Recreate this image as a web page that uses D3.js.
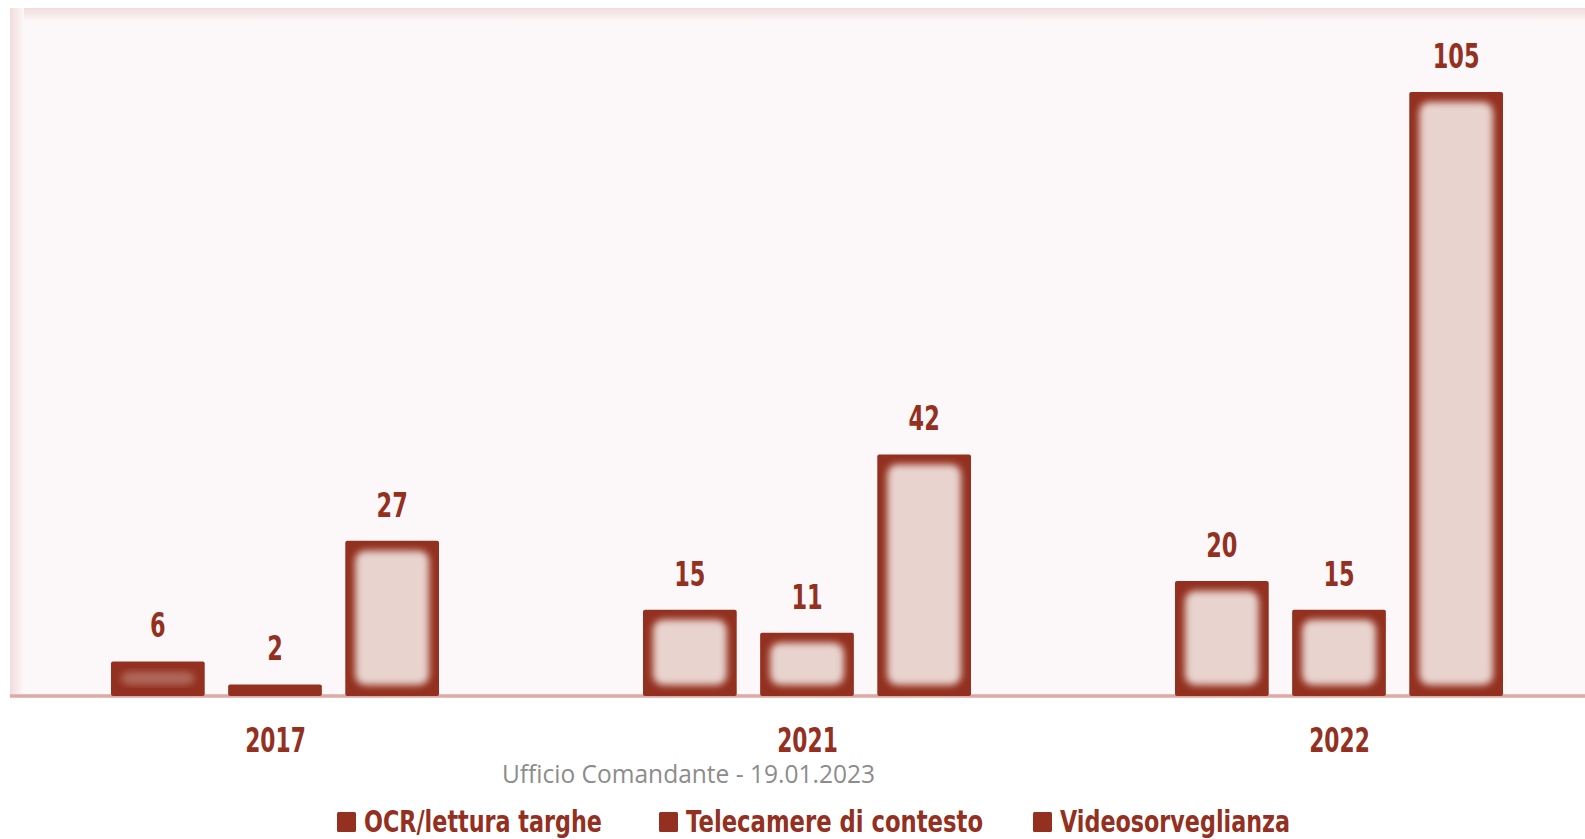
<!DOCTYPE html>
<html>
<head>
<meta charset="utf-8">
<script src="https://d3js.org/d3.v7.min.js"></script>
<style>
  body { margin: 0; background: #ffffff; }
  svg { display: block; }
</style>
</head>
<body>
<div id="chart"></div>
<script>
// data
var years = ["2017", "2021", "2022"];
var series = ["OCR/lettura targhe", "Telecamere di contesto", "Videosorveglianza"];
var ocr = [6, 15, 20];
var telecamere = [2, 11, 15];
var video = [27, 42, 105];

var W = 1585, H = 839;
var dark = "#93301f", light = "#e8d3ce";
var labelFont = "'DejaVu Sans', sans-serif";

var rows = [];
years.forEach(function(y, i) {
    rows.push({ year: y, s: series[0], v: ocr[i] });
    rows.push({ year: y, s: series[1], v: telecamere[i] });
    rows.push({ year: y, s: series[2], v: video[i] });
});

var svg = d3.select("#chart").append("svg")
    .attr("width", W)
    .attr("height", H);

var defs = svg.append("defs");
defs.append("filter").attr("id", "soft")
    .attr("x", "-20%").attr("y", "-20%").attr("width", "140%").attr("height", "140%")
    .append("feGaussianBlur").attr("stdDeviation", 3.8);
var gTop = defs.append("linearGradient").attr("id", "topEdge")
    .attr("x1", 0).attr("y1", 0).attr("x2", 0).attr("y2", 1);
gTop.append("stop").attr("offset", "0%").attr("stop-color", "#f1dcdc");
gTop.append("stop").attr("offset", "100%").attr("stop-color", "#fcf8f9");
var gLeft = defs.append("linearGradient").attr("id", "leftEdge")
    .attr("x1", 0).attr("y1", 0).attr("x2", 1).attr("y2", 0);
gLeft.append("stop").attr("offset", "0%").attr("stop-color", "#f1dcdc");
gLeft.append("stop").attr("offset", "100%").attr("stop-color", "#fcf8f9");

var baseY = 696;

// plot background
svg.append("rect").attr("x", 10).attr("y", 8).attr("width", W - 10).attr("height", baseY - 8)
    .attr("fill", "#fcf8f9");
svg.append("rect").attr("x", 10).attr("y", 8).attr("width", W - 10).attr("height", 14)
    .attr("fill", "url(#topEdge)");
svg.append("rect").attr("x", 10).attr("y", 8).attr("width", 14).attr("height", baseY - 8)
    .attr("fill", "url(#leftEdge)");

// scales
var x0 = d3.scaleBand().domain(years).range([9.5, 9.5 + 3 * 532]);
var x1 = d3.scaleBand().domain(series).range([101.5, 429.5]).paddingInner(0.2);
var y = d3.scaleLinear().domain([0, 105]).range([baseY, 92]);

// baseline
svg.append("line")
    .attr("x1", 10).attr("x2", W)
    .attr("y1", baseY).attr("y2", baseY)
    .attr("stroke", "#dcaaa2").attr("stroke-width", 3.5);

var groups = svg.selectAll(".grp")
    .data(years)
    .enter().append("g")
    .attr("class", "grp")
    .attr("transform", function(d) { return "translate(" + x0(d) + ",0)"; });

var bars = groups.selectAll(".bar")
    .data(function(yr) { return rows.filter(function(r) { return r.year == yr; }); })
    .enter().append("g")
    .attr("class", "bar");

bars.append("rect")
    .attr("x", function(d) { return x1(d.s); })
    .attr("y", function(d) { return y(d.v); })
    .attr("width", x1.bandwidth())
    .attr("height", function(d) { return baseY - y(d.v); })
    .attr("rx", 2)
    .attr("fill", dark);

// soft light inside of each bar
bars.append("rect")
    .attr("x", function(d) { return x1(d.s) + 10; })
    .attr("y", function(d) { return y(d.v) + 10; })
    .attr("width", x1.bandwidth() - 20)
    .attr("height", function(d) { return Math.max(0, baseY - y(d.v) - 21); })
    .attr("rx", 10)
    .attr("fill", light)
    .attr("opacity", function(d) { return Math.min(1, (baseY - y(d.v) - 21) / 40); })
    .attr("filter", "url(#soft)");

// value labels (narrowed to match the condensed look)
bars.append("text")
    .attr("transform", function(d) {
        return "translate(" + (x1(d.s) + x1.bandwidth() / 2) + "," + (y(d.v) - 24) + ") scale(0.66,1)";
    })
    .attr("text-anchor", "middle")
    .style("font-family", labelFont)
    .style("font-weight", "bold")
    .style("font-size", "34px")
    .attr("fill", dark)
    .text(function(d) { return d.v; });

// year labels
svg.selectAll(".year")
    .data(years)
    .enter().append("text")
    .attr("class", "year")
    .attr("transform", function(d) {
        return "translate(" + (x0(d) + x0.bandwidth() / 2) + ",752) scale(0.66,1)";
    })
    .attr("text-anchor", "middle")
    .style("font-family", labelFont)
    .style("font-weight", "bold")
    .style("font-size", "33px")
    .attr("fill", dark)
    .text(function(d) { return d; });

// footer
svg.append("text")
    .attr("x", 502).attr("y", 783)
    .attr("textLength", 373)
    .attr("lengthAdjust", "spacingAndGlyphs")
    .style("font-family", "'Open Sans', sans-serif")
    .style("font-size", "26px")
    .attr("fill", "#8c8c8c")
    .text("Ufficio Comandante - 19.01.2023");

// legend
var legX = [337, 659, 1033];
var legW = [238, 297, 230];
var leg = svg.selectAll(".leg")
    .data(series)
    .enter().append("g")
    .attr("class", "leg")
    .attr("transform", function(d, i) { return "translate(" + legX[i] + ",0)"; });
leg.append("rect")
    .attr("x", 0).attr("y", 812)
    .attr("width", 19).attr("height", 20)
    .attr("rx", 1.5)
    .attr("fill", dark);
leg.append("text")
    .attr("x", 27).attr("y", 832)
    .attr("textLength", function(d, i) { return legW[i]; })
    .attr("lengthAdjust", "spacingAndGlyphs")
    .style("font-family", labelFont)
    .style("font-weight", "bold")
    .style("font-size", "30px")
    .attr("fill", dark)
    .text(function(d) { return d; });
</script>
</body>
</html>
